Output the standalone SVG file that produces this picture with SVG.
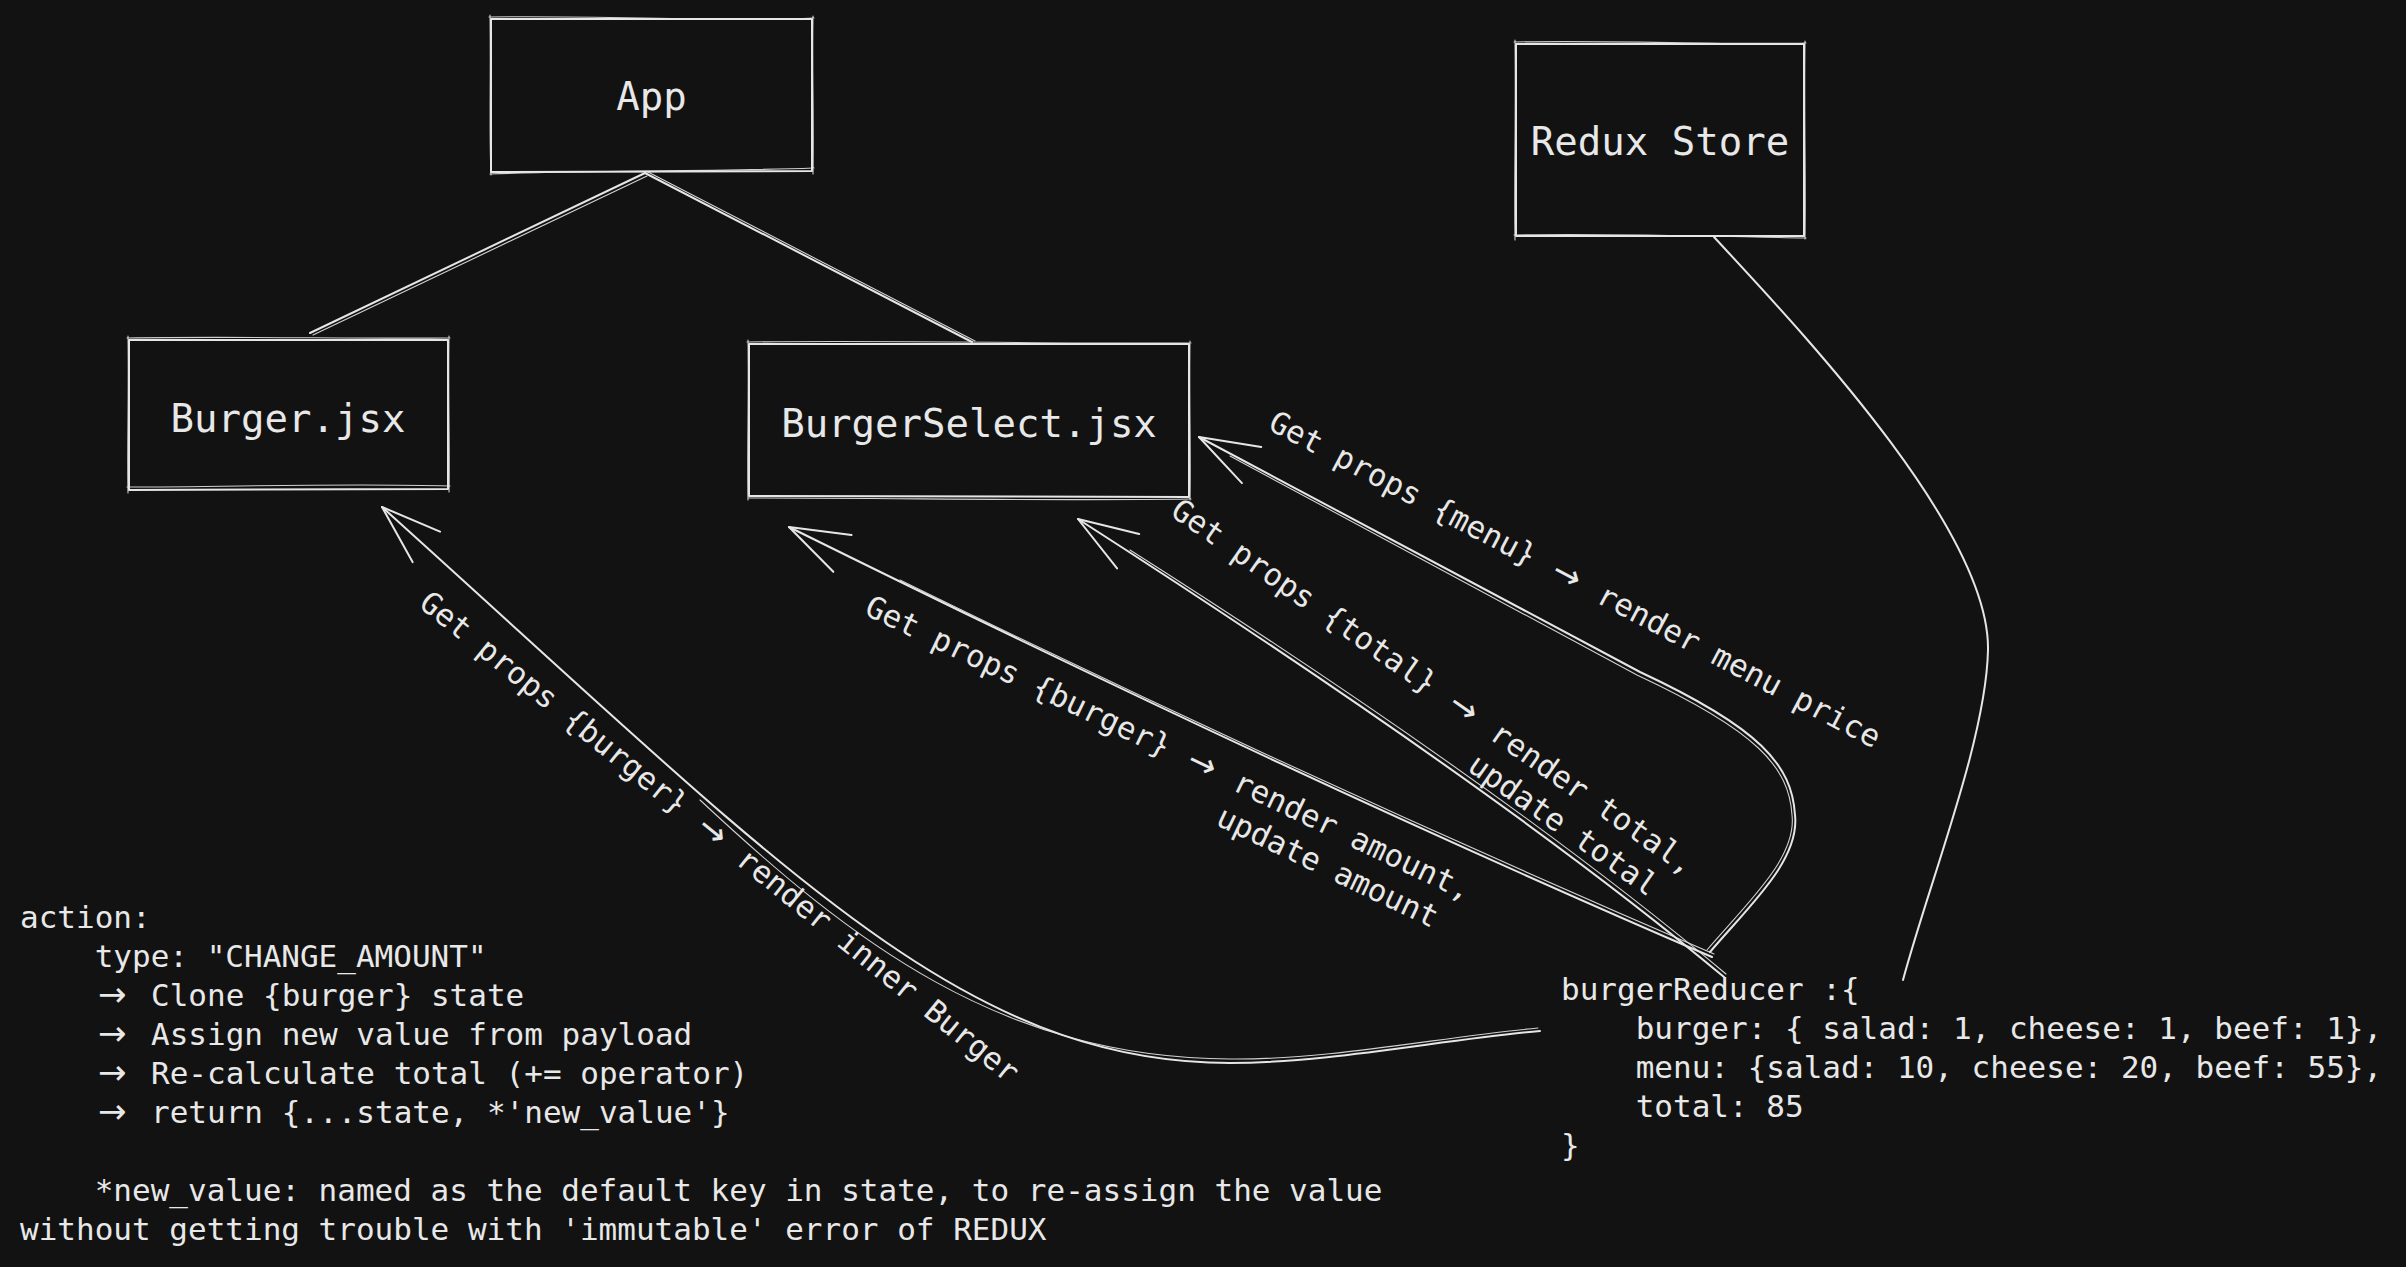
<svg xmlns="http://www.w3.org/2000/svg" width="2406" height="1267" viewBox="0 0 2406 1267">
<defs>
<style>
.t { font-family: "DejaVu Sans Mono", "Liberation Mono", monospace; fill: #e8e8e8; white-space: pre; }
.ar { font-family: "DejaVu Sans", "Liberation Sans", sans-serif; font-size: 34px; }
.big { font-size: 39px; }
.small { font-size: 31px; }
.lbl { font-size: 30.8px; }
.s { fill: none; stroke: #e6e6e6; stroke-width: 2; stroke-linecap: round; stroke-linejoin: round; }
.d { fill: none; stroke: #e6e6e6; stroke-width: 1.1; stroke-linecap: round; opacity: 0.9; }
</style>
<marker id="ah" markerUnits="userSpaceOnUse" viewBox="-70 -35 80 70" markerWidth="80" markerHeight="70" refX="0" refY="0" orient="auto" overflow="visible">
<path d="M-59.6,-20.5 L0,0 L-59.6,20.5" fill="none" stroke="#e6e6e6" stroke-width="2" stroke-linecap="round" stroke-linejoin="round"/>
</marker>
</defs>
<rect x="0" y="0" width="2406" height="1267" fill="#121212"/>

<g id="node-app">
<path class="s" d="M491,19 L812,19 L812,171 L491,172 Z"/>
<path class="d" d="M489,17 C600,15 720,22 814,18 M813,16 C812,70 814,120 813,174 M814,168 C700,172 600,170 490,174 M490,15 C491,80 489,130 491,175"/>
<text class="t big" x="651.5" y="110" text-anchor="middle">App</text>
</g>

<g id="node-burger">
<path class="s" d="M129,340 L448,340 L448,489 L129,490 Z"/>
<path class="d" d="M127,338 C240,336 350,339 450,338 M449,336 C448,400 450,450 449,492 M450,486 C340,483 230,487 127,487 M128,336 C129,400 127,450 128,493"/>
<text class="t big" x="288" y="432" text-anchor="middle">Burger.jsx</text>
</g>

<g id="node-burgerselect">
<path class="s" d="M749,344 L1189,344 L1189,497 L749,496 Z"/>
<path class="d" d="M747,342 C900,340 1050,344 1191,343 M1190,341 C1189,400 1191,450 1190,500 M1191,499 C1050,501 900,498 748,498 M748,340 C749,400 747,450 748,500"/>
<text class="t big" x="969" y="437" text-anchor="middle">BurgerSelect.jsx</text>
</g>

<g id="node-redux">
<path class="s" d="M1516,44 L1804,44 L1804,236 L1516,236 Z"/>
<path class="d" d="M1514,42 C1620,40 1720,45 1806,43 M1805,41 C1804,120 1806,180 1805,239 M1806,238 C1700,236 1600,233 1514,235 M1515,40 C1516,120 1514,180 1515,240"/>
<text class="t big" x="1660" y="155" text-anchor="middle">Redux Store</text>
</g>

<g id="connectors">
<path class="s" d="M645,173 L310,333"/>
<path class="d" d="M647,176 L313,335"/>
<path class="s" d="M645,173 L972,342"/>
<path class="d" d="M648,172 L975,341"/>
<path class="s" d="M1714,237 C1800,330 1990,530 1988,650 C1986,740 1930,880 1903,980"/>
<path class="s" marker-end="url(#ah)" d="M1540,1031 C1440,1040 1330,1063 1230,1063 C960,1063 782,867 382,507"/>
<path class="d" d="M1538,1028 C1440,1037 1330,1060 1230,1059 C1000,1058 850,940 700,800"/>
<path class="s" marker-end="url(#ah)" d="M1712,957 Q1300,780 789,527"/>
<path class="d" d="M1714,954 Q1302,777 900,580"/>
<path class="s" marker-end="url(#ah)" d="M1724,977 Q1500,790 1078,519"/>
<path class="d" d="M1726,974 Q1503,787 1130,550"/>
<path class="s" marker-end="url(#ah)" d="M1710,952 C1750,905 1800,860 1795,815 C1792,765 1760,728 1640,672 L1199,437"/>
<path class="d" d="M1707,950 C1747,903 1797,858 1792,815 C1789,767 1757,731 1637,675 L1230,456"/>

<g id="label-burger" transform="translate(417.6,606) rotate(39)">
<text class="t lbl" x="0" y="0" xml:space="preserve">Get props {burger} <tspan class="ar" dx="4.3">→</tspan><tspan dx="4.3"> render inner Burger</tspan></text>
</g>
<g id="label-amount" transform="translate(862.9,614) rotate(25.5)">
<text class="t lbl" x="0" y="0" xml:space="preserve">Get props {burger} <tspan class="ar" dx="4.3">→</tspan><tspan dx="4.3"> render amount,</tspan></text>
<text class="t lbl" x="407.9" y="38.5">update amount</text>
</g>
<g id="label-total" transform="translate(1169.1,514.7) rotate(35)">
<text class="t lbl" x="0" y="0" xml:space="preserve">Get props {total} <tspan class="ar" dx="4.3">→</tspan><tspan dx="4.3"> render total,</tspan></text>
<text class="t lbl" x="389.3" y="38.5">update total</text>
</g>
<g id="label-menu" transform="translate(1266.7,428.7) rotate(27.8)">
<text class="t lbl" x="0" y="0" xml:space="preserve">Get props {menu} <tspan class="ar" dx="4.3">→</tspan><tspan dx="4.3"> render menu price</tspan></text>
</g>
</g>

<g id="action-note">
<text class="t small" x="20" y="928">action:</text>
<text class="t small" x="20" y="967" xml:space="preserve">    type: "CHANGE_AMOUNT"</text>
<text class="t small" y="1006" xml:space="preserve"><tspan class="ar" x="98">→ </tspan><tspan x="151">Clone {burger} state</tspan></text>
<text class="t small" y="1045" xml:space="preserve"><tspan class="ar" x="98">→ </tspan><tspan x="151">Assign new value from payload</tspan></text>
<text class="t small" y="1084" xml:space="preserve"><tspan class="ar" x="98">→ </tspan><tspan x="151">Re-calculate total (+= operator)</tspan></text>
<text class="t small" y="1123" xml:space="preserve"><tspan class="ar" x="98">→ </tspan><tspan x="151">return {...state, *'new_value'}</tspan></text>
<text class="t small" x="20" y="1201" xml:space="preserve">    *new_value: named as the default key in state, to re-assign the value</text>
<text class="t small" x="20" y="1240" xml:space="preserve">without getting trouble with 'immutable' error of REDUX</text>
</g>

<g id="burger-reducer">
<text class="t small" x="1561" y="1000" xml:space="preserve">burgerReducer :{</text>
<text class="t small" x="1561" y="1039" xml:space="preserve">    burger: { salad: 1, cheese: 1, beef: 1},</text>
<text class="t small" x="1561" y="1078" xml:space="preserve">    menu: {salad: 10, cheese: 20, beef: 55},</text>
<text class="t small" x="1561" y="1117" xml:space="preserve">    total: 85</text>
<text class="t small" x="1561" y="1156">}</text>
</g>
</svg>
